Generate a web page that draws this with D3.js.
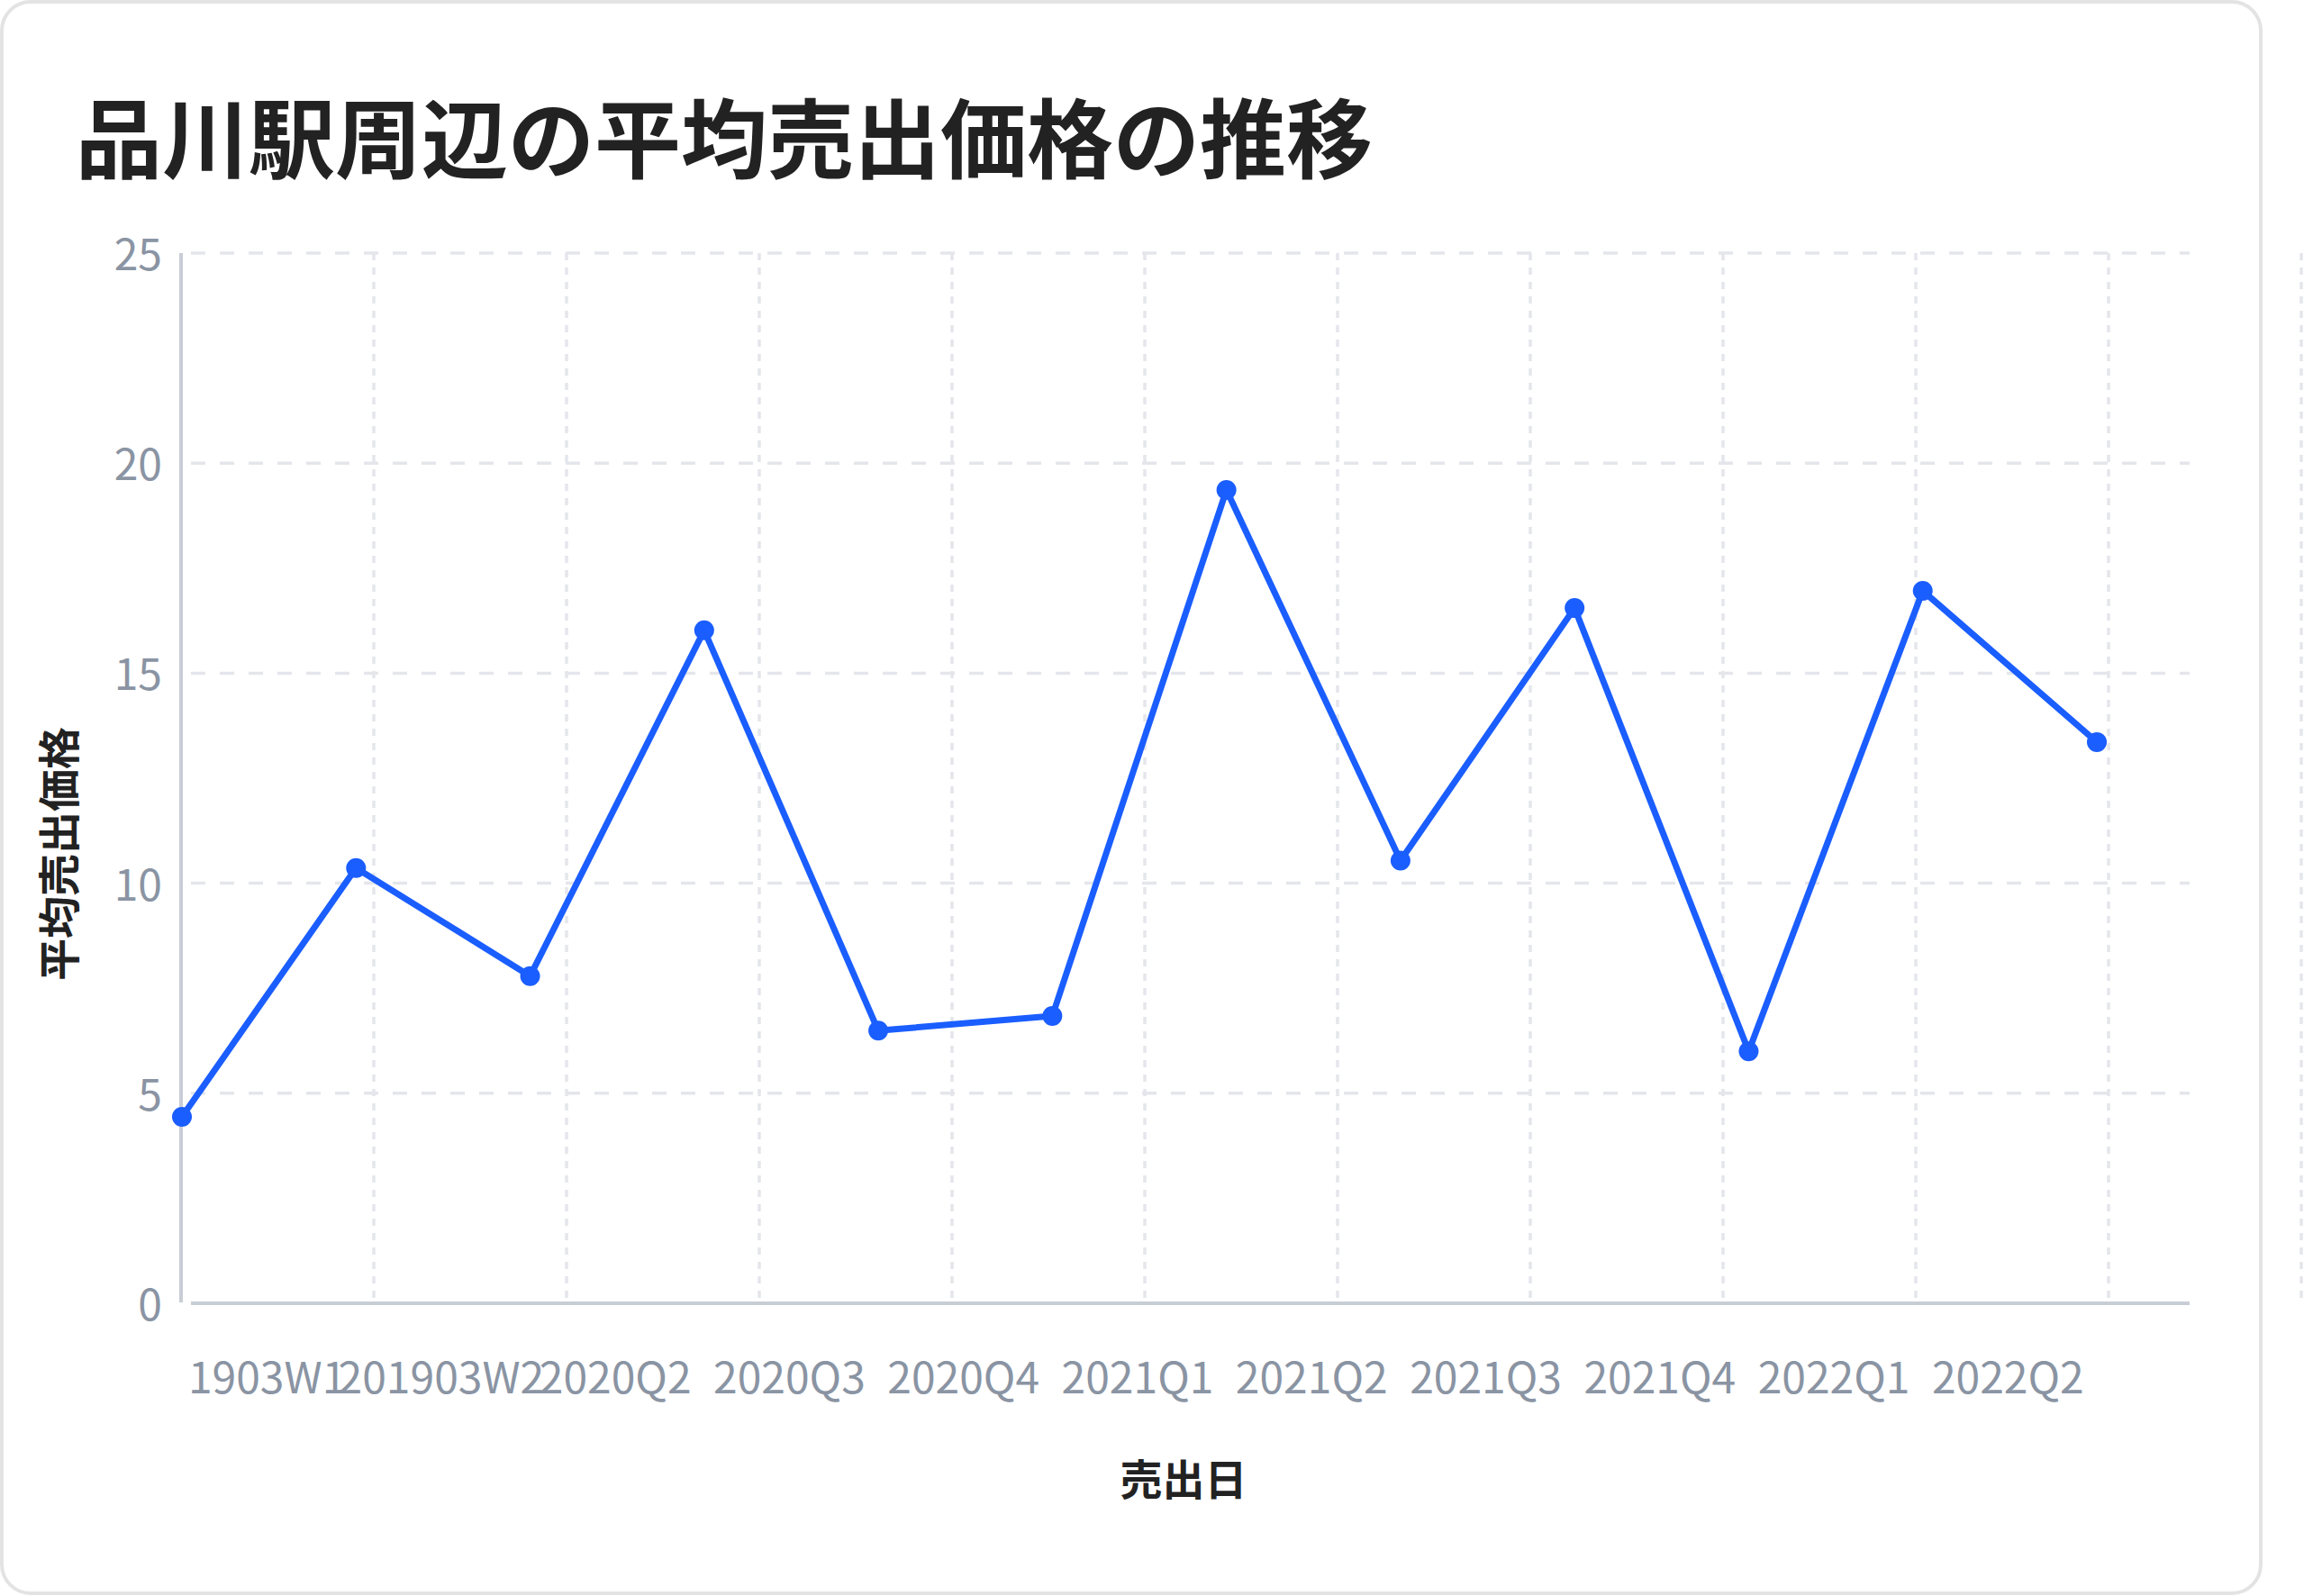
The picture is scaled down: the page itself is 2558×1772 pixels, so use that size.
<!DOCTYPE html>
<html lang="ja">
<head>
<meta charset="utf-8">
<script src="https://cdn.jsdelivr.net/npm/d3@7"></script>
<style>
  html, body { margin: 0; padding: 0; background: #ffffff; }
  svg { display: block; }
  text { font-family: "Noto Sans CJK JP", "Noto Sans", sans-serif; }
</style>
</head>
<body>
<div id="chart"></div>
<script>
// ---- data ----
const chartTitle = "品川駅周辺の平均売出価格の推移";
const xAxisTitle = "売出日";
const yAxisTitle = "平均売出価格";
const xTickLabels = ["1903W1", "201903W2", "2020Q2", "2020Q3", "2020Q4", "2021Q1", "2021Q2", "2021Q3", "2021Q4", "2022Q1", "2022Q2"];
const pointIndex = [0, 1, 2, 3, 4, 5, 6, 7, 8, 9, 10, 11];
const prices = [4.44, 10.36, 7.79, 16.02, 6.49, 6.84, 19.36, 10.54, 16.55, 6.0, 16.96, 13.36];
const yTicks = [0, 5, 10, 15, 20, 25];
const gridSlots = [0, 1, 2, 3, 4, 5, 6, 7, 8, 9, 10, 11];

// ---- layout ----
const W = 2558, H = 1772;
const plotLeft = 201, plotRight = 2431, plotTop = 281, plotBottom = 1447;
const blue = "#1b5eff";
const tickColor = "#8a94a3";
const gridColor = "#e4e6eb";
const axisColor = "#c8cdd5";

const svg = d3.select("#chart").append("svg")
  .attr("width", W).attr("height", H);

// card
svg.append("rect")
  .attr("x", 2).attr("y", 2)
  .attr("width", 2508).attr("height", 1767)
  .attr("rx", 32).attr("ry", 32)
  .attr("fill", "#ffffff")
  .attr("stroke", "#e3e3e3")
  .attr("stroke-width", 4);

// title
svg.append("text")
  .attr("x", 84).attr("y", 190)
  .attr("font-size", 96).attr("font-weight", 700)
  .attr("fill", "#222222")
  .text(chartTitle);

// scales
const x = d3.scalePoint().domain(pointIndex).range([plotLeft + 1, 2328]);
const y = d3.scaleLinear().domain([0, 25]).range([plotBottom, plotTop]);
const gx = d3.scaleLinear().domain([0, 11]).range([plotLeft, plotLeft + 11 * 214]);

// horizontal grid
svg.append("g").selectAll("line")
  .data(yTicks.filter(v => v > 0))
  .join("line")
  .attr("x1", 212).attr("x2", plotRight)
  .attr("y1", d => y(d)).attr("y2", d => y(d))
  .attr("stroke", gridColor).attr("stroke-width", 3.5)
  .attr("stroke-dasharray", "16,16");

// vertical grid
svg.append("g").selectAll("line")
  .data(gridSlots.filter(k => k > 0))
  .join("line")
  .attr("x1", d => gx(d)).attr("x2", d => gx(d))
  .attr("y1", plotTop).attr("y2", plotBottom)
  .attr("stroke", gridColor).attr("stroke-width", 3.5)
  .attr("stroke-dasharray", "8,8");

// axis lines
svg.append("line")
  .attr("x1", plotLeft).attr("x2", plotLeft)
  .attr("y1", plotTop).attr("y2", plotBottom - 1)
  .attr("stroke", axisColor).attr("stroke-width", 4);
svg.append("line")
  .attr("x1", 212).attr("x2", plotRight)
  .attr("y1", plotBottom).attr("y2", plotBottom)
  .attr("stroke", axisColor).attr("stroke-width", 4);

// y tick labels
svg.append("g").selectAll("text")
  .data(yTicks)
  .join("text")
  .attr("x", 180)
  .attr("y", d => y(d) + 19)
  .attr("text-anchor", "end")
  .attr("font-size", 48)
  .attr("fill", tickColor)
  .text(d => d);

// x tick labels (centred between consecutive points)
svg.append("g").selectAll("text")
  .data(xTickLabels)
  .join("text")
  .attr("x", (d, i) => (x(pointIndex[i]) + x(pointIndex[i + 1])) / 2 - 2)
  .attr("y", 1547)
  .attr("text-anchor", "middle")
  .attr("font-size", 48)
  .attr("fill", tickColor)
  .text(d => d);

// axis titles
svg.append("text")
  .attr("x", 1314).attr("y", 1660)
  .attr("text-anchor", "middle")
  .attr("font-size", 47).attr("font-weight", 700)
  .attr("fill", "#222222")
  .text(xAxisTitle);

svg.append("text")
  .attr("transform", "translate(83,948) rotate(-90)")
  .attr("text-anchor", "middle")
  .attr("font-size", 47).attr("font-weight", 700)
  .attr("fill", "#222222")
  .text(yAxisTitle);

// line
const line = d3.line()
  .x((d, i) => x(pointIndex[i]))
  .y(d => y(d));

svg.append("path")
  .datum(prices)
  .attr("d", line)
  .attr("fill", "none")
  .attr("stroke", blue)
  .attr("stroke-width", 7)
  .attr("stroke-linejoin", "round");

svg.append("g").selectAll("circle")
  .data(prices)
  .join("circle")
  .attr("cx", (d, i) => x(pointIndex[i]))
  .attr("cy", d => y(d))
  .attr("r", 11)
  .attr("fill", blue);
</script>
</body>
</html>
